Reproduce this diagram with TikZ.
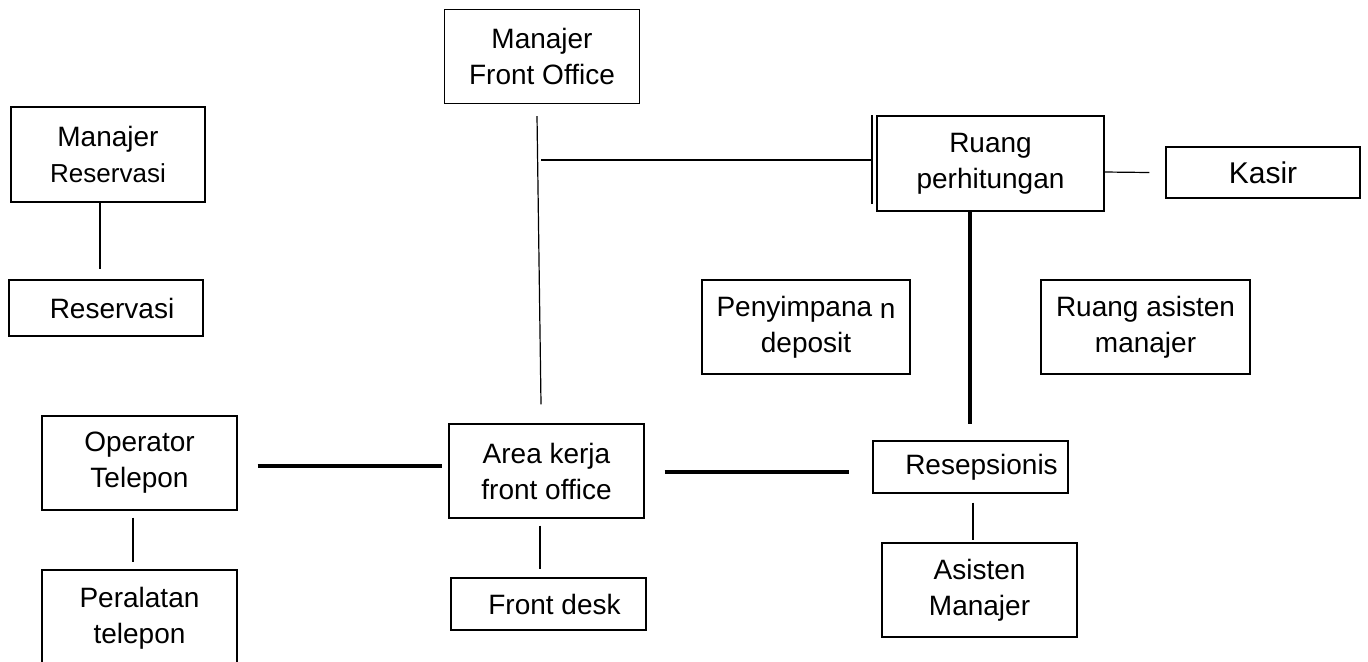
\documentclass[tikz,border=0pt]{standalone}
\usepackage{fontspec}
\setmainfont{Liberation Sans}
\usetikzlibrary{positioning}

\tikzset{
  room/.style={draw, line width=0.6pt, align=center, inner sep=0pt,
    minimum width=97.5pt, minimum height=47pt,
    font=\fontsize{14}{18}\selectfont},
  slim/.style={room, minimum height=26pt},
  link/.style={line width=0.6pt},
  main link/.style={line width=2pt}
}

\begin{document}
\begin{tikzpicture}[x=0.5pt,y=-0.5pt]
  \useasboundingbox (0,0) rectangle (1368,661);
  \clip (0,0) rectangle (1368,661);

  \node[room] (mfo) at (542,56.5) {Manajer\\Front Office};
  \node[room, minimum width=97pt, minimum height=47.5pt] (mres) at (108,154.5)
    {Manajer\\{\fontsize{13}{18}\selectfont Reservasi}};
  \node[slim, minimum width=97pt, minimum height=28pt] (resv) at (106,308) {\hspace{6pt}Reservasi};
  \node[room, line width=1pt, minimum width=113.5pt, minimum height=47.5pt] (ruang) at (990.5,163.5)
    {Ruang\\perhitungan};
  \node[slim, minimum width=97pt, minimum height=25.5pt, font=\fontsize{15}{18}\selectfont] (kasir) at (1263,172.5) {Kasir};
  \node[room, minimum width=104pt] (simpan) at (806,327) {Penyimpana {\raisebox{-1pt}{n}}\\deposit};
  \node[room, minimum width=104.5pt] (rasisten) at (1145.5,327) {Ruang asisten\\manajer};
  \node[room] (optel) at (139.5,463) {Operator\\Telepon};
  \node[room, minimum height=48pt] (peral) at (139.5,618) {Peralatan\\telepon};
  \node[room] (area) at (546.5,471) {Area kerja\\front office};
  \node[slim] (fdesk) at (548.5,604) {\hspace{6pt}Front desk};
  \node[slim] (resep) at (970.5,467) {\hspace{11pt}Resepsionis};
  \node[room] (asist) at (979.5,590) {Asisten\\Manajer};

  \coordinate (stem) at (541,160);

  \draw[link] ([xshift=-2.5pt,yshift=-6pt]mfo.south) -- ([xshift=-2.75pt,yshift=9.5pt]area.north);
  \draw[link] (stem) -- ([xshift=-2pt,yshift=1.75pt]ruang.west);
  \draw[link] ([xshift=-2pt]ruang.north west) -- ([xshift=-2pt,yshift=4pt]ruang.south west);
  \draw[link] ([yshift=-4.25pt]ruang.east) -- ([xshift=-8pt]kasir.west);
  \draw[main link] ([xshift=-10.25pt]ruang.south) -- ([xshift=-0.25pt,yshift=8pt]resep.north);
  \draw[link] ([xshift=-4pt]mres.south) -- ([xshift=-3pt,yshift=5pt]resv.north);
  \draw[main link] ([xshift=10pt,yshift=-1.5pt]optel.east) -- ([xshift=-3pt,yshift=2.5pt]area.west);
  \draw[main link] ([xshift=10pt,yshift=-0.5pt]area.east) -- ([xshift=-11.5pt,yshift=-2.5pt]resep.west);
  \draw[link] ([xshift=-3.25pt,yshift=-3.5pt]area.south) -- ([xshift=-4.25pt,yshift=4pt]fdesk.north);
  \draw[link] ([xshift=-3.25pt,yshift=-3.5pt]optel.south) -- ([xshift=-3.25pt,yshift=3.5pt]peral.north);
  \draw[link] ([xshift=1.25pt,yshift=-4.5pt]resep.south) -- ([xshift=-3.25pt,yshift=1pt]asist.north);
\end{tikzpicture}
\end{document}
